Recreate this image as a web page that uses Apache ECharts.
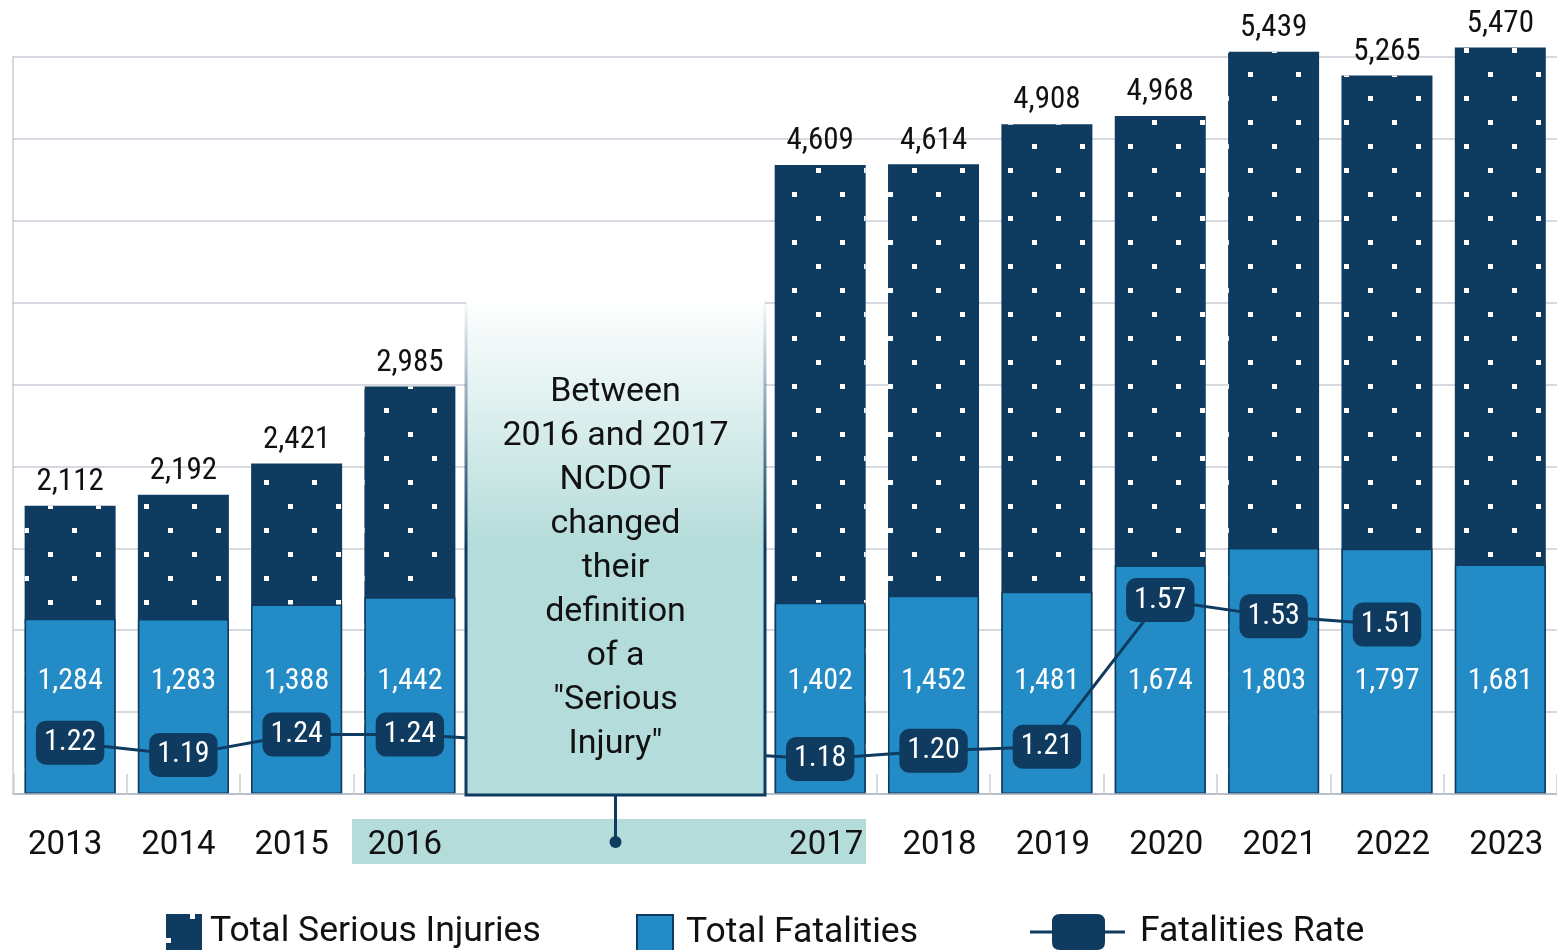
<!DOCTYPE html>
<html>
<head>
<meta charset="utf-8">
<script src="https://cdn.jsdelivr.net/npm/echarts@6/dist/echarts.min.js"></script>
<style>
html,body{margin:0;padding:0;background:#ffffff;}
#chart{width:1557px;height:950px;}
</style>
</head>
<body>
<div id="chart"></div>
<script>
// ---------------- data ----------------
const years = ['2013', '2014', '2015', '2016', '2017', '2018', '2019', '2020', '2021', '2022', '2023'];
const seriousInjuries = [2112, 2192, 2421, 2985, 4609, 4614, 4908, 4968, 5439, 5265, 5470];
const fatalities = [1284, 1283, 1388, 1442, 1402, 1452, 1481, 1674, 1803, 1797, 1681];
const fatalityRate = [1.22, 1.19, 1.24, 1.24, 1.18, 1.20, 1.21, 1.57, 1.53, 1.51, null];
const yTicks = [0, 600, 1200, 1800, 2400, 3000, 3600, 4200, 4800, 5400];
const definitionChangeIndex = 4; // first year with the new "Serious Injury" definition (2017)
const seriesNames = ['Total Serious Injuries', 'Total Fatalities', 'Fatalities Rate'];
const annotationLines = ['Between', '2016 and 2017', 'NCDOT', 'changed', 'their', 'definition', 'of a', '"Serious', 'Injury"'];

// ---------------- style / layout ----------------
const NAVY = '#0e3b5f';
const BLUE = '#238bc6';
const TEAL = '#b4dcda';
const GRID_COLOR = '#c8ced6';
const AXIS_COLOR = '#aeb7c2';
const TEXT = '#111111';
const CONDENSED = "'Roboto Condensed', 'Liberation Sans Narrow', 'DejaVu Sans Condensed', Roboto, sans-serif";
const STRETCH = 'condensed';
const SANS = "Roboto, 'Open Sans', sans-serif";

const GRID_TOP = 57, GRID_BOTTOM = 156;
const LEFT_GRID = { left: 13.5, width: 453 };
const RIGHT_GRID = { left: 763.5, width: 797 };
const BOX = { x1: 466, x2: 765, top: 298, bottom: 795 };
const RATE_MIN = 1.094, RATE_MAX = 2.903;

const leftYears = years.slice(0, definitionChangeIndex);
const rightYears = years.slice(definitionChangeIndex);
const fmt = v => Number(v).toLocaleString('en-US');

const decal = {
  symbol: 'rect',
  symbolSize: 1,
  color: '#ffffff',
  dashArrayX: [[5, 43], [0, 24, 5, 19]],
  dashArrayY: [5, 19]
};

function buildSeries(xi, yi, ri, inj, fat, rate) {
  return [
    {
      name: seriesNames[0], type: 'bar', xAxisIndex: xi, yAxisIndex: yi,
      data: inj, barWidth: 91, barGap: '-100%', clip: false, z: 2,
      itemStyle: { color: NAVY, decal: decal },
      label: {
        show: true, position: 'top', distance: 8,
        formatter: p => fmt(p.value),
        fontFamily: CONDENSED, fontStyle: STRETCH, fontSize: 31, color: TEXT
      },
      emphasis: { disabled: true }
    },
    {
      name: seriesNames[1], type: 'bar', xAxisIndex: xi, yAxisIndex: yi,
      data: fat, barWidth: 91, barGap: '-100%', clip: false, z: 3,
      itemStyle: { color: BLUE, borderColor: NAVY, borderWidth: 1.5 },
      label: {
        show: true, position: 'insideBottom', distance: 98,
        formatter: p => fmt(p.value),
        fontFamily: CONDENSED, fontStyle: STRETCH, fontSize: 30, color: '#ffffff'
      },
      emphasis: { disabled: true }
    },
    {
      name: seriesNames[2], type: 'line', xAxisIndex: xi, yAxisIndex: ri,
      data: rate, z: 5, symbol: 'circle', symbolSize: 2, showSymbol: true,
      lineStyle: { color: NAVY, width: 3 },
      itemStyle: { color: NAVY },
      label: {
        show: true, position: 'inside',
        formatter: p => (p.value == null ? '' : Number(p.value).toFixed(2)),
        backgroundColor: NAVY, borderRadius: 10, padding: [7, 8],
        fontFamily: CONDENSED, fontStyle: STRETCH, fontSize: 30, color: '#ffffff'
      },
      emphasis: { disabled: true }
    }
  ];
}

function catAxis(gridIndex, data, padding) {
  return {
    type: 'category', gridIndex: gridIndex, data: data, boundaryGap: true, z: 5,
    axisLine: { show: true, lineStyle: { color: AXIS_COLOR, width: 1.5 } },
    axisTick: { show: true, inside: true, length: 20, lineStyle: { color: GRID_COLOR, width: 1.5 } },
    axisLabel: { show: true, margin: 35, fontFamily: SANS, fontSize: 33, color: TEXT, padding: padding },
    splitLine: { show: false }
  };
}
function hiddenValueAxis(gridIndex, min, max) {
  return { type: 'value', gridIndex: gridIndex, min: min, max: max, show: false, splitLine: { show: false } };
}

const RATE_ICON = 'path://M0,16.5H22V8Q22,0 30,0H67Q75,0 75,8V16.5H95V19.5H75V28Q75,36 67,36H30Q22,36 22,28V19.5H0Z';
const legendText = { fontFamily: SANS, fontSize: 35.5, color: TEXT, padding: [0, 0, 0, 3] };

const option = {
  animation: false,
  backgroundColor: '#ffffff',
  grid: [
    { left: 12.5, width: 1550, top: GRID_TOP, bottom: GRID_BOTTOM },
    { left: LEFT_GRID.left, width: LEFT_GRID.width, top: GRID_TOP, bottom: GRID_BOTTOM },
    { left: RIGHT_GRID.left, width: RIGHT_GRID.width, top: GRID_TOP, bottom: GRID_BOTTOM }
  ],
  xAxis: [
    { type: 'value', gridIndex: 0, min: 0, max: 1, show: false },
    catAxis(1, leftYears, [0, 10, 0, 0]),
    catAxis(2, rightYears, [0, 0, 0, 12])
  ],
  yAxis: [
    {
      type: 'value', gridIndex: 0, min: yTicks[0], max: yTicks[yTicks.length - 1],
      interval: yTicks[1] - yTicks[0],
      axisLabel: { show: false }, axisTick: { show: false },
      axisLine: { show: true, lineStyle: { color: GRID_COLOR, width: 1.5 } },
      splitLine: { show: true, lineStyle: { color: GRID_COLOR, width: 1.5 } }
    },
    hiddenValueAxis(1, yTicks[0], yTicks[yTicks.length - 1]),
    hiddenValueAxis(1, RATE_MIN, RATE_MAX),
    hiddenValueAxis(2, yTicks[0], yTicks[yTicks.length - 1]),
    hiddenValueAxis(2, RATE_MIN, RATE_MAX)
  ],
  legend: [
    { data: [{ name: seriesNames[0], icon: 'rect' }], left: 166, top: 914, padding: 0,
      itemWidth: 36, itemHeight: 36, selectedMode: false, textStyle: legendText },
    { data: [{ name: seriesNames[1], icon: 'rect' }], left: 636, top: 914, padding: 0,
      itemWidth: 36, itemHeight: 36, selectedMode: false,
      textStyle: Object.assign({}, legendText, { padding: [0, 0, 0, 8] }) },
    { data: [{ name: seriesNames[2], icon: RATE_ICON }], left: 1030, top: 914, padding: 0,
      itemWidth: 95, itemHeight: 36, selectedMode: false,
      textStyle: Object.assign({}, legendText, { padding: [0, 0, 0, 10] }) }
  ],
  tooltip: { show: false },
  series: [].concat(
    buildSeries(1, 1, 2,
      seriousInjuries.slice(0, definitionChangeIndex),
      fatalities.slice(0, definitionChangeIndex),
      fatalityRate.slice(0, definitionChangeIndex)),
    buildSeries(2, 3, 4,
      seriousInjuries.slice(definitionChangeIndex),
      fatalities.slice(definitionChangeIndex),
      fatalityRate.slice(definitionChangeIndex))
  )
};

const chart = echarts.init(document.getElementById('chart'), null, { renderer: 'canvas' });
chart.setOption(option);

// connector between the last old-definition rate point and the first new-definition one
const lastLeft = definitionChangeIndex - 1;
const p16 = chart.convertToPixel({ seriesIndex: 2 }, [lastLeft, fatalityRate[lastLeft]]);
const p17 = chart.convertToPixel({ seriesIndex: 5 }, [0, fatalityRate[definitionChangeIndex]]);
const midX = (BOX.x1 + BOX.x2) / 2;

chart.setOption({
  graphic: [
    { type: 'rect', z: 1, shape: { x: 352, y: 819, width: 514, height: 45 }, style: { fill: TEAL } },
    { type: 'line', z: 4, shape: { x1: p16[0], y1: p16[1], x2: p17[0], y2: p17[1] },
      style: { stroke: NAVY, lineWidth: 3 } },
    { type: 'rect', z: 20, shape: { x: BOX.x1, y: BOX.top, width: BOX.x2 - BOX.x1, height: BOX.bottom - BOX.top },
      style: { fill: new echarts.graphic.LinearGradient(0, 0, 0, 1, [
        { offset: 0, color: '#ffffff' }, { offset: 0.5, color: TEAL }, { offset: 1, color: TEAL }]) } },
    { type: 'polyline', z: 21,
      shape: { points: [[BOX.x1, BOX.top], [BOX.x1, BOX.bottom], [BOX.x2, BOX.bottom], [BOX.x2, BOX.top]] },
      style: { fill: null, lineWidth: 3, stroke: new echarts.graphic.LinearGradient(0, 0, 0, 1, [
        { offset: 0, color: 'rgba(14,59,95,0)' }, { offset: 0.5, color: NAVY }, { offset: 1, color: NAVY }]) } },
    { type: 'text', z: 22, x: midX, y: 568,
      style: { text: annotationLines.join('\n'), fontFamily: SANS, fontSize: 34, lineHeight: 44,
        align: 'center', verticalAlign: 'middle', fill: TEXT } },
    { type: 'line', z: 21, shape: { x1: midX, y1: BOX.bottom, x2: midX, y2: 842 },
      style: { stroke: NAVY, lineWidth: 3 } },
    { type: 'circle', z: 21, shape: { cx: midX, cy: 842, r: 6 }, style: { fill: NAVY } }
  ]
});
</script>
</body>
</html>
